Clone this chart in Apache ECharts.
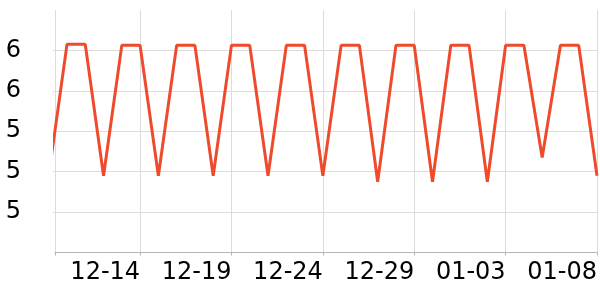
<!DOCTYPE html>
<html><head><meta charset="utf-8">
<script src="https://cdn.jsdelivr.net/npm/echarts@6/dist/echarts.min.js"></script>
<style>html,body{margin:0;padding:0;background:#fff}#c{width:600px;height:300px}</style>
</head><body><div id="c"></div>
<script>
const dates = ['12-09','12-10','12-11','12-12','12-13','12-14','12-15','12-16','12-17','12-18','12-19','12-20','12-21','12-22','12-23','12-24','12-25','12-26','12-27','12-28','12-29','12-30','12-31','01-01','01-02','01-03','01-04','01-05','01-06','01-07','01-08'];
const values = [5.18,5.83,5.83,5.18,5.825,5.825,5.18,5.825,5.825,5.18,5.825,5.825,5.18,5.825,5.825,5.18,5.825,5.825,5.15,5.825,5.825,5.15,5.825,5.825,5.15,5.825,5.825,5.27,5.825,5.825,5.18];
const xLabelIdx = [5,10,15,20,25,30];
const xStart = 0.344;
const yMin = 4.8, yMax = 6.0, yStep = 0.2;

const chart = echarts.init(document.getElementById('c'), null, {renderer:'canvas'});
const grid = '#dcdcdc';
chart.setOption({
  animation:false,
  grid:{left:55,right:2,top:10,bottom:47.5,containLabel:false},
  xAxis:{
    type:'value', min:xStart, max:dates.length-1,
    axisLine:{show:true,lineStyle:{color:'#b5b5b5',width:1}},
    axisTick:{show:true,length:3,lineStyle:{color:'#b5b5b5'},customValues:[xStart].concat(xLabelIdx)},
    axisLabel:{customValues:xLabelIdx,formatter:v=>dates[Math.round(v)],align:'right',fontSize:24,color:'#000',fontFamily:'DejaVu Sans',margin:8},
    splitLine:{show:true,lineStyle:{color:grid,width:1}}
  },
  yAxis:{
    type:'value', min:yMin, max:yMax, interval:yStep,
    axisLine:{show:false},
    axisTick:{show:true,length:2,lineStyle:{color:grid}},
    axisLabel:{showMinLabel:false,showMaxLabel:false,formatter:v=>String(Math.round(v)),fontSize:24,color:'#000',fontFamily:'DejaVu Sans',margin:34},
    splitLine:{show:true,showMaxLine:false,lineStyle:{color:grid,width:1}}
  },
  series:[{
    type:'line', data:values.map((v,i)=>[i,v]), showSymbol:false, symbol:'none',
    lineStyle:{color:'#ef4a2b',width:3}, clip:true
  }]
});
</script></body></html>
